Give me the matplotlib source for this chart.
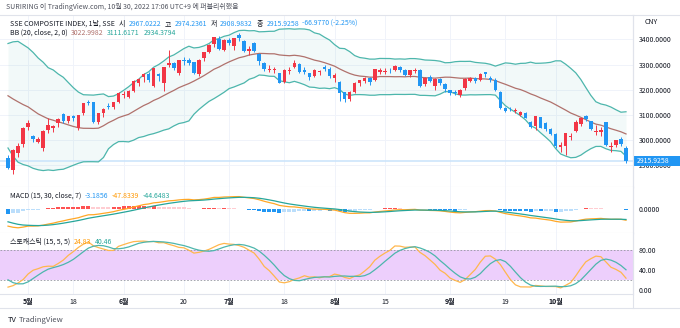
import numpy as np
import pandas as pd
import matplotlib
matplotlib.use("Agg")
import matplotlib.pyplot as plt
from matplotlib.patches import Rectangle

plt.rcParams['font.family'] = ['Noto Sans CJK KR', 'DejaVu Sans']

W, H = 680, 328

# SSE composite, daily, 2022-04-26 .. 2022-10-28
holidays = ['2022-05-02', '2022-05-03', '2022-05-04', '2022-06-03', '2022-09-12',
            '2022-10-03', '2022-10-04', '2022-10-05', '2022-10-06', '2022-10-07']
dates = pd.bdate_range('2022-04-26', '2022-10-28')
dates = dates[~dates.isin(pd.to_datetime(holidays))]

opens = [2928, 2880, 2947, 2984, 3050, 3013, 2991, 2967, 3038, 3045, 3066, 3102, 3075, 3094, 3046, 3106,
         3152, 3150, 3070, 3108, 3133, 3132, 3150, 3180, 3170, 3196, 3228, 3250, 3262, 3215, 3262, 3225,
         3300, 3305, 3265, 3320, 3317, 3310, 3262, 3325, 3352, 3382, 3400, 3360, 3398, 3375, 3418, 3395,
         3356, 3385, 3342, 3305, 3279, 3279, 3265, 3230, 3276, 3292, 3303, 3280, 3265, 3255, 3272, 3290,
         3282, 3245, 3230, 3190, 3164, 3190, 3228, 3235, 3245, 3240, 3272, 3270, 3280, 3280, 3290, 3277,
         3258, 3275, 3280, 3222, 3252, 3215, 3242, 3224, 3197, 3190, 3180, 3205, 3236, 3246, 3240, 3270,
         3245, 3240, 3192, 3125, 3124, 3114, 3100, 3105, 3070, 3055, 3090, 3068, 3042, 3024, 2972, 2975,
         3010, 3035, 3062, 3093, 3073, 3030, 3030, 3070, 2970, 2978, 3004, 2967.0222]
highs = [2937, 2962, 2985, 3050, 3077, 3019, 3010, 3040, 3085, 3060, 3088, 3106, 3095, 3097, 3100, 3148,
         3160, 3152, 3108, 3125, 3148, 3152, 3190, 3196, 3198, 3238, 3245, 3267, 3270, 3286, 3265, 3290,
         3358, 3311, 3320, 3330, 3325, 3312, 3322, 3352, 3381, 3410, 3414, 3400, 3407, 3406, 3425, 3398,
         3375, 3392, 3345, 3310, 3297, 3292, 3268, 3282, 3290, 3318, 3306, 3290, 3268, 3282, 3280, 3300,
         3290, 3268, 3236, 3192, 3195, 3230, 3240, 3250, 3250, 3284, 3285, 3285, 3288, 3298, 3294, 3282,
         3280, 3285, 3283, 3250, 3258, 3245, 3248, 3228, 3200, 3198, 3202, 3245, 3250, 3250, 3265, 3272,
         3255, 3245, 3195, 3130, 3132, 3125, 3115, 3110, 3075, 3095, 3092, 3072, 3048, 3026, 2990, 3028,
         3025, 3078, 3088, 3098, 3076, 3060, 3052, 3072, 2990, 3000, 3010, 2974.2361]
lows = [2884, 2863, 2930, 2970, 3040, 2992, 2985, 2955, 3028, 3032, 3050, 3068, 3066, 3075, 3040, 3100,
        3140, 3068, 3062, 3090, 3122, 3122, 3146, 3166, 3165, 3190, 3214, 3230, 3232, 3210, 3236, 3195,
        3290, 3280, 3258, 3300, 3298, 3262, 3255, 3315, 3345, 3370, 3358, 3355, 3378, 3360, 3395, 3350,
        3340, 3350, 3300, 3275, 3270, 3268, 3226, 3225, 3262, 3285, 3266, 3262, 3238, 3250, 3260, 3275,
        3248, 3230, 3155, 3150, 3155, 3185, 3215, 3225, 3218, 3235, 3264, 3262, 3268, 3276, 3270, 3253,
        3250, 3265, 3210, 3215, 3230, 3200, 3220, 3190, 3178, 3180, 3172, 3200, 3230, 3228, 3235, 3250,
        3230, 3195, 3123, 3110, 3115, 3105, 3095, 3085, 3045, 3040, 3045, 3035, 3020, 2968, 2950, 2940,
        2998, 3030, 3055, 3075, 3040, 3020, 3015, 2975, 2950, 2972, 2975, 2908.9832]
closes = [2886, 2958, 2975, 3047, 3067, 3001, 3004, 3035, 3058, 3055, 3084, 3074, 3094, 3086, 3097, 3147,
          3147, 3071, 3107, 3123, 3130, 3149, 3186, 3182, 3195, 3236, 3242, 3264, 3239, 3285, 3255, 3289,
          3305, 3285, 3317, 3315, 3307, 3267, 3320, 3350, 3379, 3409, 3362, 3399, 3388, 3405, 3404, 3355,
          3364, 3356, 3314, 3281, 3284, 3282, 3228, 3278, 3279, 3305, 3272, 3270, 3250, 3277, 3276, 3283,
          3253, 3260, 3186, 3164, 3189, 3227, 3237, 3247, 3230, 3282, 3277, 3276, 3278, 3293, 3278, 3258,
          3278, 3276, 3215, 3246, 3236, 3241, 3227, 3202, 3185, 3186, 3200, 3243, 3246, 3236, 3262, 3264,
          3238, 3200, 3126, 3116, 3122, 3117, 3109, 3088, 3051, 3094, 3045, 3041, 3024, 2974, 2980, 3026,
          3016, 3072, 3085, 3081, 3044, 3035, 3039, 2978, 2976, 2999.5, 2982.9, 2915.9258]

# earlier sessions (2022-01-04 .. 2022-04-25), only needed to warm up the indicators
warm_close = [3632, 3595, 3586, 3579, 3593, 3567, 3597, 3555, 3521, 3541, 3569, 3558, 3555, 3522, 3524,
              3433, 3455, 3394, 3361, 3429, 3452, 3479, 3485, 3462, 3428, 3446, 3465, 3468, 3490, 3490,
              3457, 3489, 3429, 3451, 3462, 3488, 3484, 3481, 3447, 3372, 3293, 3256, 3296, 3309, 3223,
              3064, 3171, 3215, 3251, 3253, 3259, 3271, 3250, 3212, 3214, 3203, 3266, 3252, 3282, 3283,
              3236, 3251, 3167, 3213, 3186, 3225, 3211, 3195, 3194, 3151, 3079, 3087, 2928]
warm_high = [3276, 3265, 3258, 3216, 3236, 3267, 3266, 3283, 3295, 3274, 3255, 3240, 3214, 3217, 3226,
             3225, 3220, 3215, 3195, 3153, 3100, 3060]
warm_low = [3245, 3245, 3212, 3180, 3200, 3210, 3243, 3226, 3270, 3225, 3220, 3166, 3138, 3180, 3193,
            3184, 3175, 3171, 3150, 3075, 3050, 2928]

# legend values as printed on the chart
ohlc_text = ['2967.0222', '2974.2361', '2908.9832', '2915.9258']
change_text = '-66.9770 (-2.25%)'
bb_text = ['3022.9982', '3111.6171', '2934.3794']
macd_text = ['-3.1856', '-47.8339', '-44.6483']
stoch_text = ['24.83', '40.46']

price_ticks = [2900, 3000, 3100, 3200, 3300, 3400]
stoch_ticks = [0, 40, 80]
tick_dates = ['2022-05-05', '2022-05-18', '2022-06-01', '2022-06-20', '2022-07-01', '2022-07-18',
              '2022-08-01', '2022-08-15', '2022-09-01', '2022-09-19', '2022-10-10']
tick_labels = ['5월', '18', '6월', '20', '7월', '18', '8월', '15', '9월', '19', '10월']

# ---- indicators ----
n0 = len(warm_close)
c = pd.Series(warm_close + closes, dtype=float)
hi = pd.Series([np.nan] * (n0 - len(warm_high)) + warm_high + highs, dtype=float)
lo = pd.Series([np.nan] * (n0 - len(warm_low)) + warm_low + lows, dtype=float)

basis = c.rolling(20).mean()
dev = c.rolling(20).std(ddof=0)
upper = (basis + 2 * dev)[n0:].values
lower = (basis - 2 * dev)[n0:].values
basis = basis[n0:].values

macd = c.ewm(span=15, adjust=False).mean() - c.ewm(span=30, adjust=False).mean()
signal = macd.ewm(span=7, adjust=False).mean()
hist = (macd - signal)
hist_prev = hist.shift(1)[n0:].values
macd, signal, hist = macd[n0:].values, signal[n0:].values, hist[n0:].values

ll = lo.rolling(15).min()
hh = hi.rolling(15).max()
k = (100 * (c - ll) / (hh - ll)).rolling(5).mean()
d = k.rolling(5).mean()
k, d = k[n0:].values, d[n0:].values

# ---- figure ----
fig = plt.figure(figsize=(W / 100, H / 100), dpi=100)
fig.patch.set_facecolor('white')

def px_axes(x0, y0, x1, y1):
    return fig.add_axes([x0 / W, 1 - y1 / H, (x1 - x0) / W, (y1 - y0) / H])

RIGHT = 633
step = (626 - 8) / (len(closes) - 1)
xl = (-8 / step, (RIGHT - 8) / step)
x = np.arange(len(closes))
xt = [dates.get_loc(pd.Timestamp(t)) for t in tick_dates]

ax1 = px_axes(0, 15, RIGHT, 187)
ax2 = px_axes(0, 187, RIGHT, 233)
ax3 = px_axes(0, 233, RIGHT, 294)

grid_c = '#f0f3fa'
sep_c = '#e0e3eb'
lab_c = '#131722'
for ax in (ax1, ax2, ax3):
    ax.set_xlim(*xl)
    ax.set_facecolor('white')
    for s in ('top', 'left'):
        ax.spines[s].set_visible(False)
    for s in ('bottom', 'right'):
        ax.spines[s].set_color(sep_c)
        ax.spines[s].set_linewidth(0.8)
    ax.yaxis.tick_right()
    ax.tick_params(axis='y', length=0, pad=4, labelsize=5, labelcolor=lab_c)
    ax.tick_params(axis='x', length=0)
    for xi in xt:
        ax.axvline(xi, color=grid_c, lw=0.7, zorder=0)

# main pane
ax1.set_ylim(2811.2, 3497.8)
for p in price_ticks:
    ax1.axhline(p, color=grid_c, lw=0.7, zorder=0)
ax1.set_yticks(price_ticks)
ax1.set_yticklabels([f'{p:.4f}' for p in price_ticks])
ax1.set_xticks([])

ax1.fill_between(x, lower, upper, color='#26a69a', alpha=0.06, lw=0, zorder=1)
ax1.plot(x, upper, color='#4db6ac', lw=0.9, zorder=2)
ax1.plot(x, lower, color='#4db6ac', lw=0.9, zorder=2)
ax1.plot(x, basis, color='#b0716c', lw=0.9, zorder=2)
ax1.axhline(closes[-1], color='#c9e3fb', lw=1.1, zorder=1)

o = np.array(opens, dtype=float)
cl = np.array(closes, dtype=float)
up = cl >= o
col = np.where(up, '#f23645', '#2196f3')
ax1.vlines(x, lows, highs, colors=col, lw=0.7, zorder=3)
body = np.maximum(np.abs(cl - o), 1.5)
ax1.bar(x, body, bottom=np.minimum(o, cl), width=0.7, color=col, lw=0, zorder=4)

# MACD pane
ax2.set_ylim(-104, 98)
ax2.set_yticks([0])
ax2.set_yticklabels(['0.0000'])
ax2.set_xticks([])
hcol = []
for h, hp in zip(hist, hist_prev):
    if h >= 0:
        hcol.append('#ff5252' if hp < h else '#ffcdd2')
    else:
        hcol.append('#bbdefb' if hp < h else '#2196f3')
ax2.bar(x, hist, width=0.8, color=hcol, lw=0, zorder=2)
ax2.plot(x, macd, color='#ffa726', lw=0.9, zorder=3)
ax2.plot(x, signal, color='#26a69a', lw=0.9, zorder=3)

# stochastic pane
ax3.set_ylim(-8.6, 113.4)
ax3.set_yticks(stoch_ticks)
ax3.set_yticklabels([f'{s:.2f}' for s in stoch_ticks])
ax3.axhspan(20, 80, color='#edcffc', lw=0, zorder=0)
for lvl in (20, 80):
    ax3.axhline(lvl, color='#9598a1', lw=0.6, ls=(0, (2, 2)), zorder=1)
ax3.plot(x, k, color='#ffb74d', lw=0.9, zorder=3)
ax3.plot(x, d, color='#4db6ac', lw=0.9, zorder=3)
ax3.set_xticks(xt)
ax3.set_xticklabels(tick_labels)
ax3.tick_params(axis='x', labelsize=5, labelcolor=lab_c, pad=3)
for lab, s in zip(ax3.get_xticklabels(), tick_labels):
    if s.endswith('월'):
        lab.set_fontweight('bold')

# frame lines
fig.add_artist(plt.Line2D([0, 1], [1 - 15 / H] * 2, color=sep_c, lw=0.8))
fig.add_artist(plt.Line2D([0, 1], [1 - 308 / H] * 2, color=sep_c, lw=0.8))
fig.add_artist(plt.Line2D([RIGHT / W] * 2, [1 - 308 / H, 1 - 15 / H], color=sep_c, lw=0.8))

# last price label
fig.add_artist(Rectangle((RIGHT / W, 1 - 166 / H), 47 / W, 10 / H, transform=fig.transFigure,
                         facecolor='#2196f3', edgecolor='none'))
fig.text(637 / W, 1 - 161 / H, ohlc_text[3], color='white', fontsize=5, va='center')
fig.text(645 / W, 1 - 22 / H, 'CNY', color=lab_c, fontsize=5, va='center')

renderer = fig.canvas.get_renderer()

def text_run(x0, y0, parts, size=5, gap=3.5):
    for s, cc in parts:
        t = fig.text(x0 / W, 1 - y0 / H, s, color=cc, fontsize=size, va='center', ha='left')
        x0 += t.get_window_extent(renderer).width + gap

blue, dark = '#2196f3', '#131722'
text_run(6, 7, [('SURIRING 이 TradingView.com, 10월 30, 2022 17:06 UTC+9 에 퍼블리쉬했음', '#50535e')])
text_run(10, 24, [('SSE COMPOSITE INDEX, 1날, SSE', dark), ('시', dark), (ohlc_text[0], blue),
                  ('고', dark), (ohlc_text[1], blue), ('저', dark), (ohlc_text[2], blue),
                  ('종', dark), (ohlc_text[3], blue), (change_text, blue)])
text_run(10, 33, [('BB (20, close, 2, 0)', dark), (bb_text[0], '#b0716c'),
                  (bb_text[1], '#26a69a'), (bb_text[2], '#26a69a')])
text_run(10, 196, [('MACD (15, 30, close, 7)', dark), (macd_text[0], blue),
                   (macd_text[1], '#ff9800'), (macd_text[2], '#26a69a')])
text_run(10, 242, [('스토캐스틱 (15, 5, 5)', dark), (stoch_text[0], '#ff9800'), (stoch_text[1], '#26a69a')])
text_run(8, 320, [('TV', dark), ('TradingView', '#50535e')], size=5.5, gap=2)

fig.savefig('out.png', dpi=100, facecolor='white')
